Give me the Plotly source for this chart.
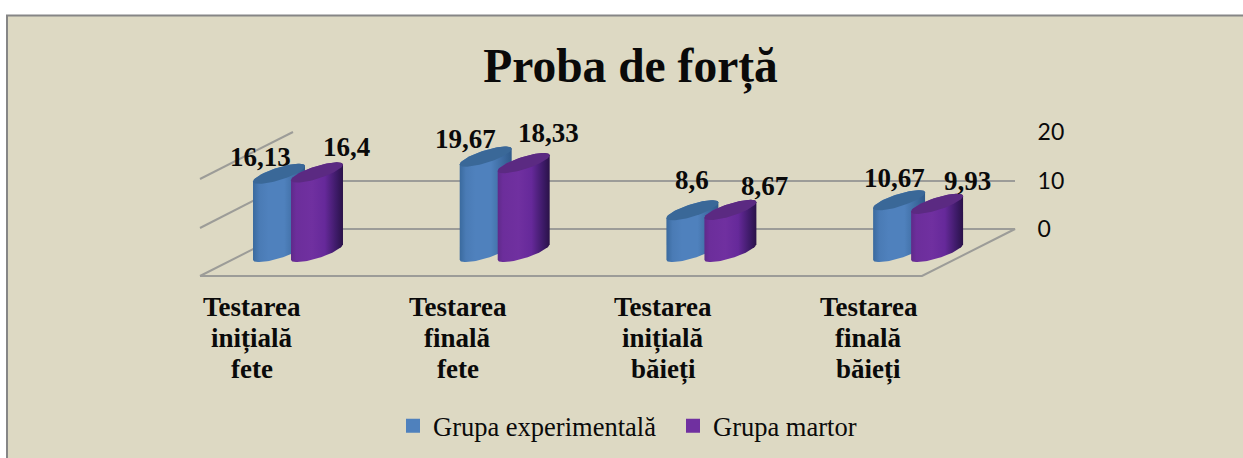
import math
import plotly.graph_objects as go

# ---- data ----
categories = ["Testarea\ninițială\nfete", "Testarea\nfinală\nfete",
              "Testarea\ninițială\nbăieți", "Testarea\nfinală\nbăieți"]
series_names = ["Grupa experimentală", "Grupa martor"]
experimental = [16.13, 19.67, 8.6, 10.67]
martor = [16.4, 18.33, 8.67, 9.93]
wall_ticks = [0, 10, 20]
title_text = "Proba de forță"

# ---- layout constants (pixels of the 1243x458 page) ----
W, H = 1243, 458
CAT_PX, VAL_PX = 206.7, 4.85      # px per category / px per value unit
ORIGIN_X, ORIGIN_Y = 298, 252     # px of category 0 / value 0 on the bars' plane
SERIES_OFFSET = [-19, 19]
ELL_A, ELL_DX, ELL_DY = 16.6, 20, 10.1
label_dx = [[-19, -20, 0, -5], [29, 25, 34, 30]]
label_dy = [[17, 17.6, 30, 22], [25.5, 30, 24, 23]]
cat_label_dx = [-46.5, -47.5, -48.5, -50]
cat_line_px = [307, 338, 369]

def to_x(px): return (px - ORIGIN_X) / CAT_PX
def to_y(py): return (ORIGIN_Y - py) / VAL_PX

body_scales = [
    [[0, "#3A6A9E"], [0.12, "#4A7BB5"], [0.3, "#4F81BD"], [0.6, "#4F81BD"], [1, "#2F5A8A"]],
    [[0, "#5F2A8A"], [0.1, "#6C2E9B"], [0.4, "#7030A0"], [0.65, "#66299A"], [0.88, "#3C1A66"], [1, "#2A1248"]],
]
cap_colors = ["#3A6898", "#5B2A82"]
bar_colors = ["#4F81BD", "#7030A0"]
GRID = "#9C9C98"
TEXT = "#0A0A0A"
SERIF = "Liberation Serif"

def ell(cx, v, t):
    x = cx + (ELL_A * math.cos(t) + ELL_DX * math.sin(t)) / CAT_PX
    y = v + ELL_DY * math.sin(t) / VAL_PX
    return x, y

T0 = math.atan2(ELL_DX, ELL_A)
N = 40

fig = go.Figure()

# floor and side wall (drawn in the bars' plane)
frame = [
    [(200, 276), (293, 229), (1015, 229), (922, 276), (200, 276)],
    [(200, 228), (293, 180.5)],
    [(200, 179), (293, 132)],
]
for seg in frame:
    fig.add_trace(go.Scatter(x=[to_x(p[0]) for p in seg], y=[to_y(p[1]) for p in seg],
                             mode="lines", line=dict(color=GRID, width=2),
                             xaxis="x2", yaxis="y2", showlegend=False, hoverinfo="skip"))

series = [experimental, martor]
xs = [[i + SERIES_OFFSET[s] / CAT_PX for i in range(len(categories))] for s in range(2)]

# real bars, hidden inside the cylinders; they carry the legend
for s, vals in enumerate(series):
    fig.add_trace(go.Bar(x=xs[s], y=vals, name=series_names[s], width=20 / CAT_PX,
                         marker=dict(color=bar_colors[s], line=dict(width=2, color=bar_colors[s])),
                         xaxis="x2", yaxis="y2"))

# cylinders
for s, vals in enumerate(series):
    for cx, v in zip(xs[s], vals):
        pts = [ell(cx, 0, T0 + math.pi + math.pi * k / N) for k in range(N + 1)]
        pts += [ell(cx, v, T0 + math.pi * k / N) for k in range(N + 1)]
        fig.add_trace(go.Scatter(x=[p[0] for p in pts], y=[p[1] for p in pts], mode="lines",
                                 line=dict(width=0), fill="toself",
                                 fillgradient=dict(type="horizontal", colorscale=body_scales[s]),
                                 xaxis="x2", yaxis="y2", showlegend=False, hoverinfo="skip"))
        cap = [ell(cx, v, 2 * math.pi * k / (2 * N)) for k in range(2 * N + 1)]
        fig.add_trace(go.Scatter(x=[p[0] for p in cap], y=[p[1] for p in cap], mode="lines",
                                 line=dict(width=0), fill="toself", fillcolor=cap_colors[s],
                                 xaxis="x2", yaxis="y2", showlegend=False, hoverinfo="skip"))

annotations = []
for s, vals in enumerate(series):
    for i, (cx, v) in enumerate(zip(xs[s], vals)):
        annotations.append(dict(x=cx, y=v, xref="x2", yref="y2", showarrow=False,
                                text=f"<b>{v:g}</b>".replace(".", ","),
                                xshift=label_dx[s][i], yshift=label_dy[s][i],
                                font=dict(family=SERIF, size=27, color=TEXT)))
for i, cat in enumerate(categories):
    for line, py in zip(cat.split("\n"), cat_line_px):
        annotations.append(dict(x=i, y=to_y(py), xref="x2", yref="y2", showarrow=False,
                                text=f"<b>{line}</b>", xshift=cat_label_dx[i] + 0.5,
                                font=dict(family=SERIF, size=27, color=TEXT)))

fig.update_layout(
    width=W, height=H, margin=dict(l=0, r=0, t=0, b=0, autoexpand=False),
    paper_bgcolor="white", plot_bgcolor="rgba(0,0,0,0)",
    barmode="overlay",
    title=dict(text=f"<b>{title_text}</b>", x=630.5 / W, xanchor="center", y=1 - 65 / H, yanchor="middle",
               font=dict(family=SERIF, size=47.5, color=TEXT)),
    xaxis=dict(domain=[293 / W, 1015 / W], range=[0, 1], visible=False, anchor="y"),
    yaxis=dict(domain=[1 - 229 / H, 1 - 132 / H], range=[0, 20], tickvals=wall_ticks, side="right",
               anchor="x", showgrid=True, gridcolor=GRID, gridwidth=2, zeroline=False, showline=False,
               ticks="outside", ticklen=17, tickcolor="rgba(0,0,0,0)",
               tickfont=dict(family="Lato", size=23, color=TEXT)),
    xaxis2=dict(domain=[0, 1], range=[to_x(0), to_x(W)], visible=False, anchor="y2"),
    yaxis2=dict(domain=[0, 1], range=[to_y(H), to_y(0)], visible=False, anchor="x2"),
    legend=dict(orientation="h", x=393 / W, xanchor="left", y=1 - 426 / H, yanchor="middle",
                font=dict(family=SERIF, size=26.5, color=TEXT), bgcolor="rgba(0,0,0,0)",
                entrywidth=235, entrywidthmode="pixels",
                itemclick=False, itemdoubleclick=False),
    annotations=annotations,
    shapes=[dict(type="rect", xref="paper", yref="paper", x0=7 / W, x1=1.01, y0=-0.01, y1=1 - 15.5 / H,
                 fillcolor="#DDD9C3", line=dict(color="#868686", width=2), layer="below")],
    showlegend=True,
)

fig.add_trace(go.Scatter(x=[0, 1], y=[0, 20], mode="none", xaxis="x", yaxis="y",
                         showlegend=False, hoverinfo="skip"))

fig.write_html("out.html", config=dict(displayModeBar=False),
               post_script="document.body.style.margin='0';document.body.style.overflow='hidden';")
